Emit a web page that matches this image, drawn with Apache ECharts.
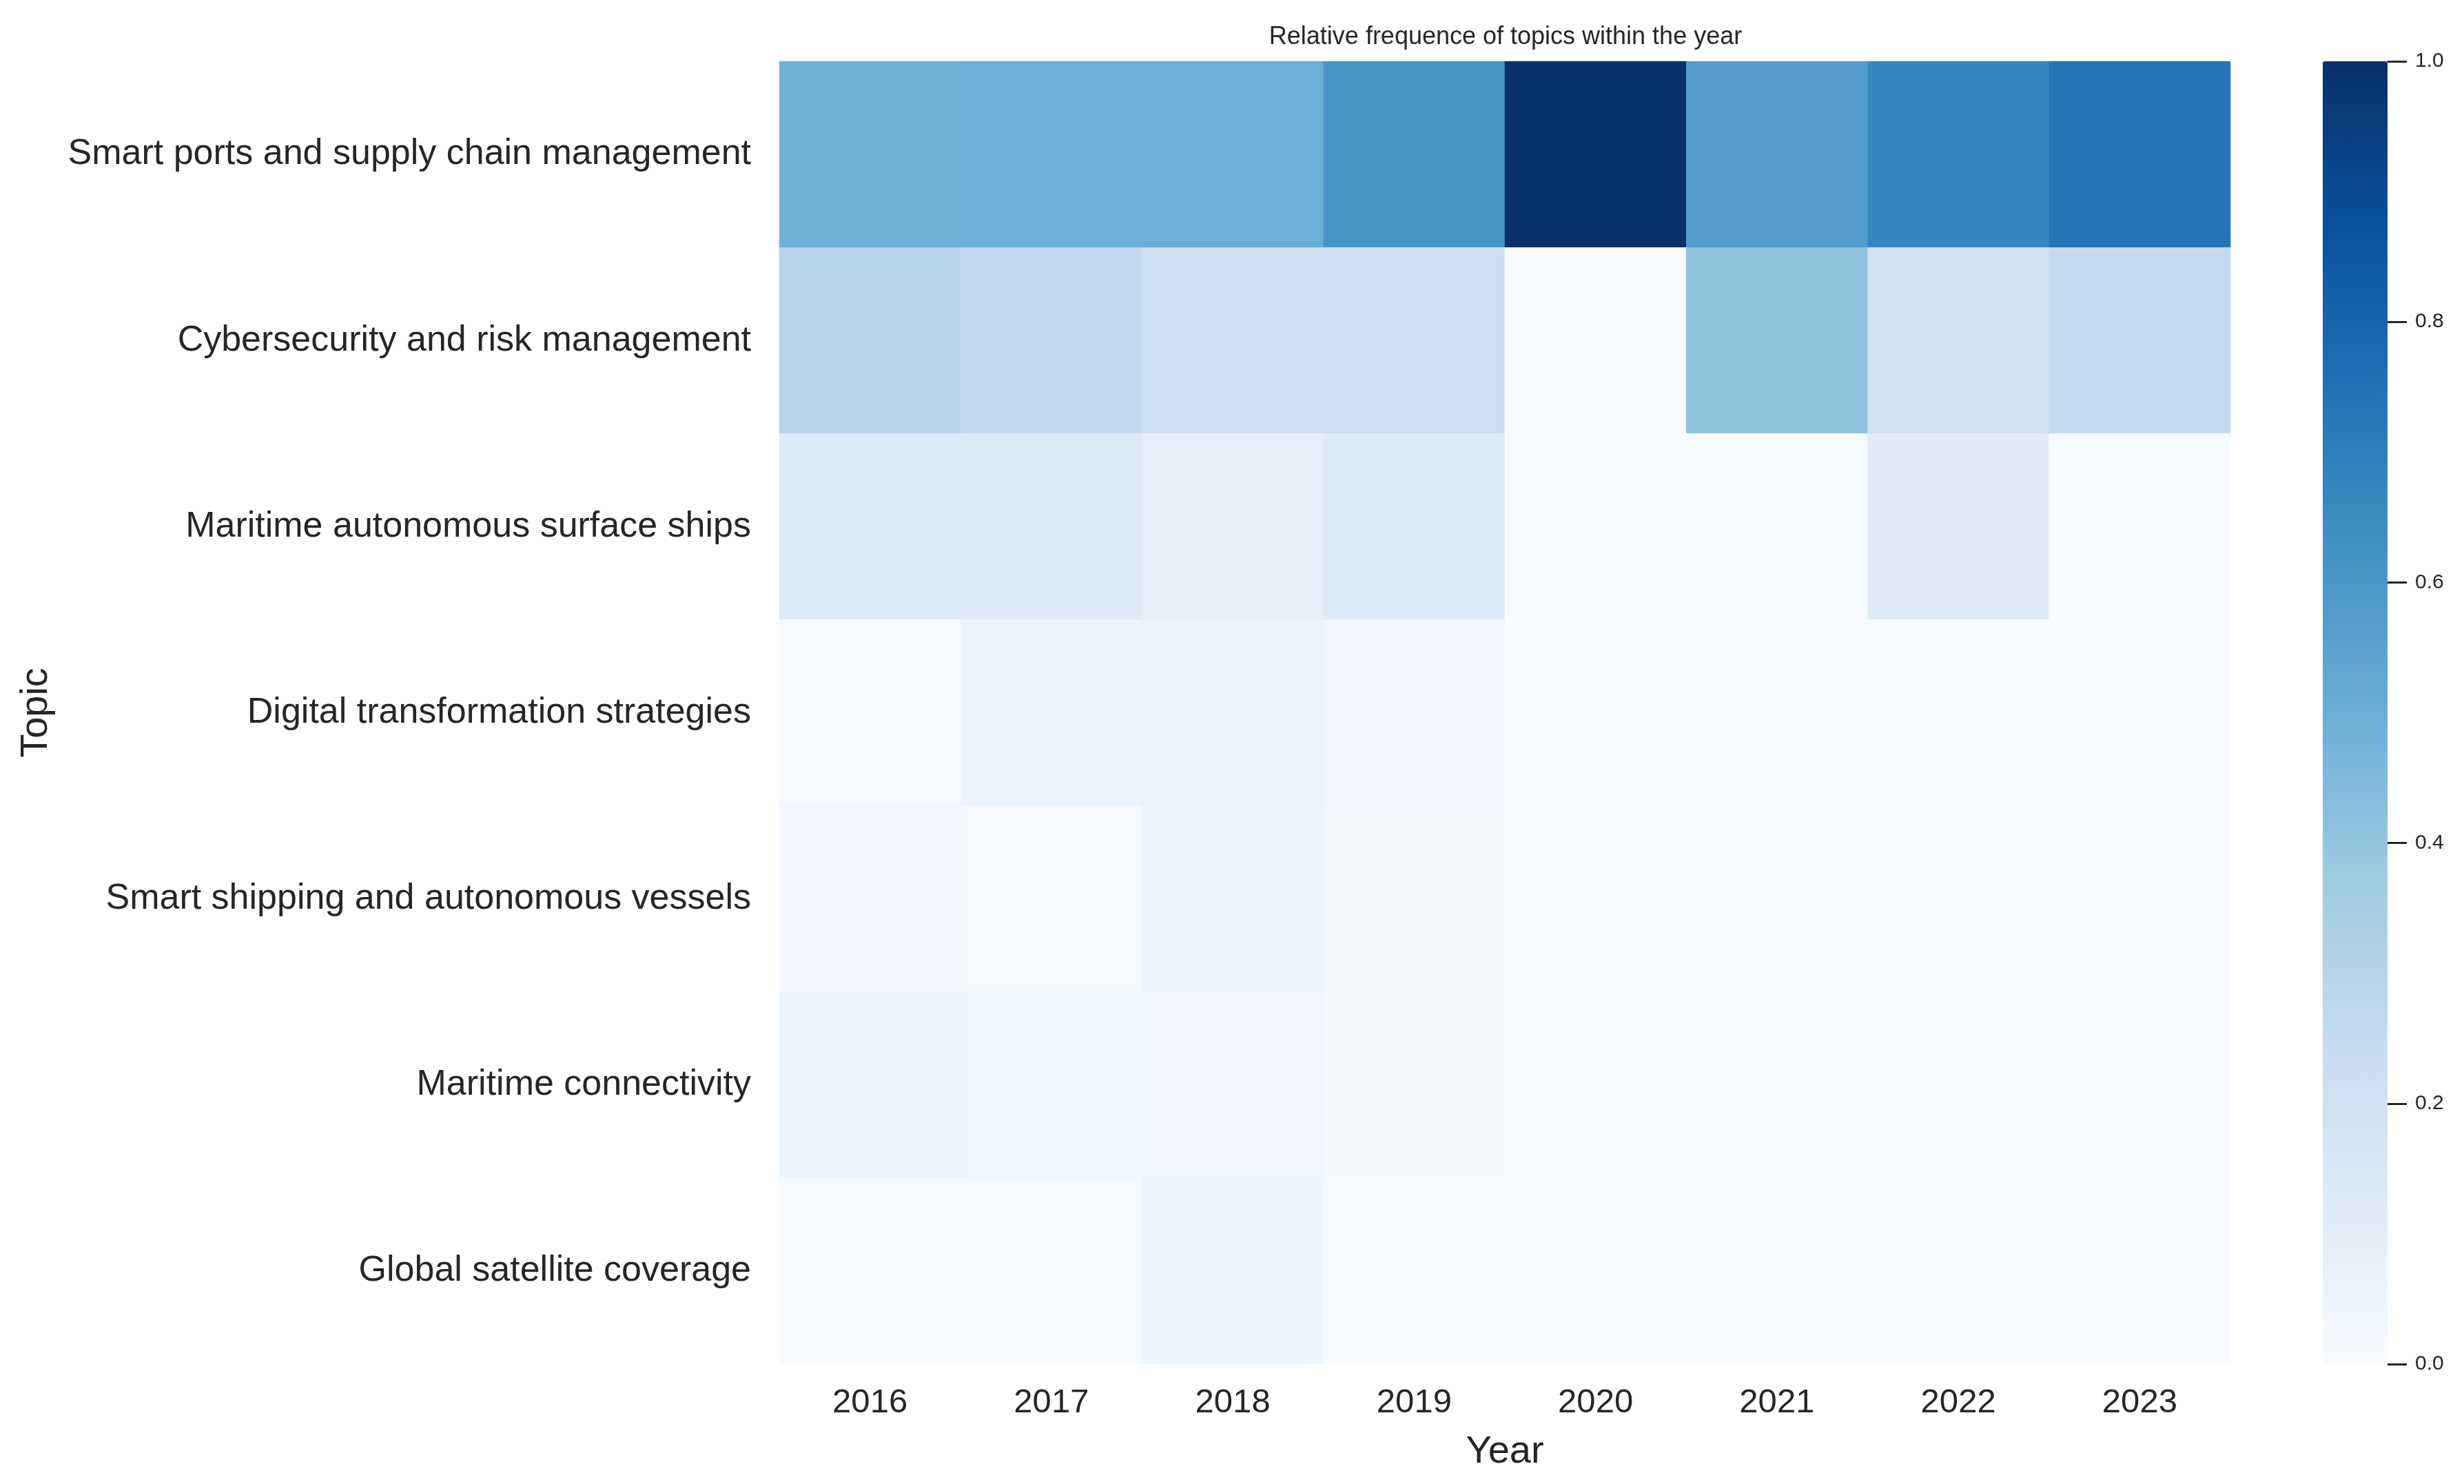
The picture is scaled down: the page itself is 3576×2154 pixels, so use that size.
<!DOCTYPE html>
<html>
<head>
<meta charset="utf-8">
<script src="https://cdn.jsdelivr.net/npm/echarts@6/dist/echarts.min.js"></script>
<style>
html,body{margin:0;padding:0;background:#fff;}
#c{width:3576px;height:2154px;}
</style>
</head>
<body>
<div id="c"></div>
<script>
const years = ['2016','2017','2018','2019','2020','2021','2022','2023'];
const topics = [
  'Smart ports and supply chain management',
  'Cybersecurity and risk management',
  'Maritime autonomous surface ships',
  'Digital transformation strategies',
  'Smart shipping and autonomous vessels',
  'Maritime connectivity',
  'Global satellite coverage'
];
const smartPorts      = [0.49, 0.50, 0.50, 0.61, 1.00, 0.58, 0.67, 0.74];
const cybersecurity   = [0.30, 0.26, 0.22, 0.22, 0.00, 0.41, 0.20, 0.25];
const autonomousShips = [0.13, 0.13, 0.09, 0.13, 0.00, 0.00, 0.12, 0.00];
const digitalStrat    = [0.005, 0.05, 0.06, 0.03, 0.00, 0.00, 0.00, 0.00];
const smartShipping   = [0.03, 0.005, 0.05, 0.015, 0.00, 0.00, 0.00, 0.00];
const connectivity    = [0.05, 0.04, 0.03, 0.015, 0.00, 0.00, 0.00, 0.00];
const satellite       = [0.005, 0.005, 0.045, 0.00, 0.00, 0.00, 0.00, 0.00];
const colorbarTicks   = [0, 0.2, 0.4, 0.6, 0.8, 1.0];

const rows = [smartPorts, cybersecurity, autonomousShips, digitalStrat, smartShipping, connectivity, satellite];
const data = [];
rows.forEach((r, yi) => r.forEach((v, xi) => data.push([xi, yi, v])));

const blues = ['#f7fbff','#deebf7','#c6dbef','#9ecae1','#6baed6','#4292c6','#2171b5','#08519c','#08306b'];
const txt = '#262626';
const font = '"Liberation Sans", Arial, Helvetica, sans-serif';

const chart = echarts.init(document.getElementById('c'), null, {renderer: 'canvas'});
chart.setOption({
  backgroundColor: '#ffffff',
  animation: false,
  textStyle: {fontFamily: font, color: txt},
  title: {
    text: 'Relative frequence of topics within the year',
    left: 2180, top: 31, textAlign: 'center',
    textStyle: {fontSize: 36, fontWeight: 'normal', color: txt, fontFamily: font}
  },
  grid: [
    {left: 1131, top: 89, width: 2106, height: 1891, containLabel: false, outerBoundsMode: 'none'},
    {left: 3371, top: 89, width: 94, height: 1891, containLabel: false, outerBoundsMode: 'none'}
  ],
  xAxis: [
    {
      type: 'category', data: years, gridIndex: 0,
      axisLine: {show: false}, axisTick: {show: false}, splitLine: {show: false},
      axisLabel: {fontSize: 49, color: txt, margin: 32, fontFamily: font},
      name: 'Year', nameLocation: 'middle', nameGap: 100,
      nameTextStyle: {fontSize: 56, color: txt, fontFamily: font}
    },
    {type: 'category', data: ['cb'], gridIndex: 1, show: false}
  ],
  yAxis: [
    {
      type: 'category', data: topics, gridIndex: 0, inverse: true,
      axisLine: {show: false}, axisTick: {show: false}, splitLine: {show: false},
      axisLabel: {fontSize: 52, color: txt, margin: 41, fontFamily: font},
      name: 'Topic', nameLocation: 'middle', nameGap: 1050, nameRotate: 90,
      nameTextStyle: {fontSize: 56, color: txt, fontFamily: font}
    },
    {
      type: 'value', gridIndex: 1, position: 'right', min: 0, max: 1, interval: 0.2, z: 10,
      axisLine: {show: false, onZero: false}, splitLine: {show: false},
      axisTick: {show: true, length: 28, lineStyle: {color: txt, width: 3}},
      axisLabel: {fontSize: 30, color: txt, margin: 40, fontFamily: font,
        formatter: v => colorbarTicks.indexOf(Math.round(v * 10) / 10) >= 0 ? v.toFixed(1) : ''}
    }
  ],
  visualMap: {
    type: 'continuous', min: 0, max: 1, seriesIndex: 0,
    calculable: false, show: true, orient: 'vertical',
    left: 3371, top: 89, padding: 0, z: 2,
    itemWidth: 94, itemHeight: 1891,
    text: null, showLabel: false,
    inRange: {color: blues},
    hoverLink: false
  },
  series: [{
    type: 'heatmap', xAxisIndex: 0, yAxisIndex: 0, data: data,
    itemStyle: {borderWidth: 0},
    emphasis: {disabled: true},
    label: {show: false}
  }]
});
</script>
</body>
</html>
